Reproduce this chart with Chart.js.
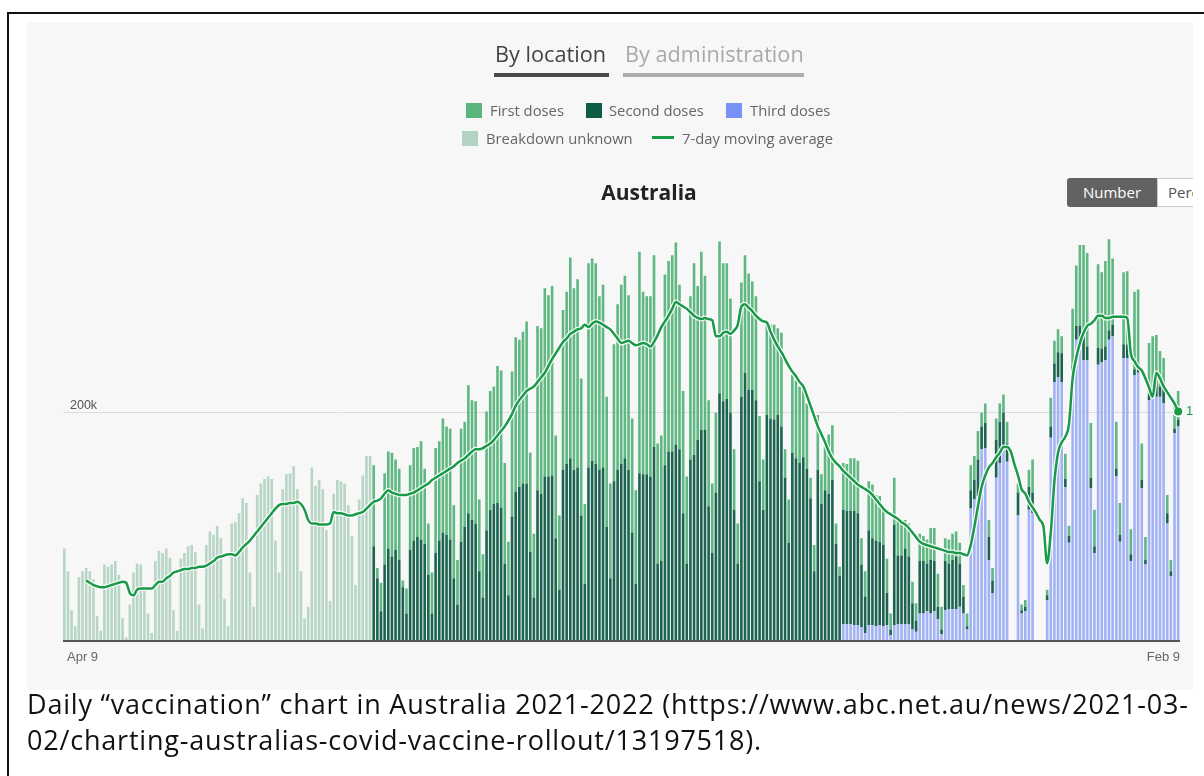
<!DOCTYPE html>
<html>
<head>
<meta charset="utf-8">
<script src="https://cdn.jsdelivr.net/npm/chart.js@4.4.0/dist/chart.umd.min.js"></script>
<style>
  body { margin: 0; width: 1204px; height: 776px; background: #fff; position: relative; overflow: hidden; font-family: "Open Sans", "Noto Sans", sans-serif; }
  #frame-top { position: absolute; left: 7px; top: 12px; width: 1197px; height: 2px; background: #111; }
  #frame-left { position: absolute; left: 7px; top: 12px; width: 2px; height: 764px; background: #111; }
  #panel { position: absolute; left: 27px; top: 22px; width: 1166px; height: 668px; background: #f7f7f7; overflow: hidden; }
  #panel div { position: absolute; white-space: nowrap; }
  #chart { position: absolute; left: 0; top: 0; }
  .tab { font-size: 21.7px; line-height: 21px; }
  .tab-bar { height: 4px; }
  .leg { font-size: 14.8px; line-height: 16px; color: #666; }
  .sw { width: 16px; height: 15px; }
  .axis { font-family: "Liberation Sans", Arial, sans-serif; font-size: 13px; line-height: 13px; color: #666; }
  #caption { position: absolute; left: 27px; top: 686px; font-size: 27px; letter-spacing: 0.8px; line-height: 36px; color: #111; white-space: nowrap; }
</style>
</head>
<body>
<div id="frame-top"></div>
<div id="frame-left"></div>
<div id="panel">
  <canvas id="chart" width="1166" height="668"></canvas>

  <div class="tab" style="left:468px; top:21px; color:#444;">By location</div>
  <div class="tab-bar" style="left:467px; top:51px; width:115px; background:#4a4a4a;"></div>
  <div class="tab" style="left:598px; top:21px; color:#a9a9a9;">By administration</div>
  <div class="tab-bar" style="left:596px; top:51px; width:181px; background:#adadad;"></div>

  <div class="sw" style="left:439px; top:81px; background:#5ab57c;"></div>
  <div class="leg" style="left:463px; top:80px;">First doses</div>
  <div class="sw" style="left:559px; top:81px; background:#0e5b46;"></div>
  <div class="leg" style="left:582px; top:80px;">Second doses</div>
  <div class="sw" style="left:699px; top:81px; background:#7a92f6;"></div>
  <div class="leg" style="left:723px; top:80px;">Third doses</div>
  <div class="sw" style="left:435px; top:109px; background:#b3d3c2;"></div>
  <div class="leg" style="left:459px; top:108px;">Breakdown unknown</div>
  <div style="left:625px; top:114px; width:22px; height:3px; background:#1a9a48;"></div>
  <div class="leg" style="left:655px; top:108px;">7-day moving average</div>

  <div style="left:522px; top:160px; width:200px; text-align:center; font-size:21px; line-height:21px; font-weight:700; color:#222;">Australia</div>

  <div style="left:1040px; top:156px; width:90px; height:29px; background:#626262; border-radius:3px 0 0 3px; color:#fff; font-size:15px; line-height:29px; text-align:center;">Number</div>
  <div style="left:1130px; top:156px; width:90px; height:27px; background:#fff; border:1px solid #ccc; color:#555; font-size:15px; line-height:27px; padding-left:10px;">Percent</div>

  <div class="axis" style="left:43px; top:377px; font-size:12.5px; color:#555;">200k</div>
  <div class="axis" style="left:40px; top:628px;">Apr 9</div>
  <div class="axis" style="left:1093px; top:628px; width:60px; text-align:right;">Feb 9</div>
  <div style="left:1159px; top:382px; font-family:'Liberation Sans', Arial, sans-serif; font-size:13px; line-height:13px; color:#1a9a48;">199k</div>
</div>
<div id="caption">Daily “vaccination” chart in Australia 2021-2022 (https://www.abc.net.au/news/2021-03-<br>02/charting-australias-covid-vaccine-rollout/13197518).</div>

<script>
// daily doses in thousands, Apr 9 2021 .. Feb 9 2022 (307 days)
const DAYS = 307;
const FIRST_DAY = new Date(2021, 3, 9);
const xTickLabels = ["Apr 9", "Feb 9"];
const yTickLabels = ["200k"];

// Apr 9 .. Jul 2: only totals
const unknownDoses = [
  81, 61, 27, 13, 56, 61, 64,
  61, 54, 22, 9, 67, 65, 67,
  70, 58, 20, 3, 32, 60, 68,
  67, 48, 24, 7, 70, 79, 77,
  81, 73, 27, 9, 72, 77, 83,
  84, 78, 32, 11, 84, 96, 93,
  101, 90, 37, 13, 103, 104, 112,
  125, 121, 60, 30, 128, 138, 142,
  144, 142, 88, 60, 133, 146, 147,
  153, 133, 61, 20, 30, 152, 136,
  141, 133, 97, 35, 129, 141, 140,
  138, 119, 92, 49, 124, 145, 162,
  162
];

// from Jul 3 (day 85)
const firstDoses = [
  71, 9, 25, 80, 85, 91, 79,
  80, 6, 22, 74, 81, 79, 86,
  66, 45, 36, 92, 87, 100, 95,
  97, 64, 39, 99, 92, 112, 105,
  107, 63, 38, 104, 104, 103, 120,
  120, 88, 47, 127, 135, 129, 133,
  142, 87, 56, 144, 145, 165, 159,
  166, 90, 65, 140, 151, 176, 159,
  165, 120, 70, 179, 177, 176, 152,
  160, 114, 83, 120, 145, 157, 160,
  153, 100, 82, 194, 160, 156, 158,
  168, 105, 110, 167, 167, 172, 177,
  144, 107, 76, 143, 168, 135, 156,
  135, 93, 61, 70, 133, 121, 119,
  100, 53, 35, 100, 103, 102, 95,
  91, 57, 44, 79, 82, 83, 76,
  82, 25, 38, 68, 68, 67, 60,
  57, 18, 23, 48, 26, 38, 52,
  48, 18, 8,
  41, 41, 46, 46, 46, 23, 22,
  43, 47, 40, 40, 31, 30, 14,
  41, 31, 31, 25, 29, 19, 15,
  24, 22, 21, 28, 29, 29, 20,
  20, 21, 23, 22, 18, 10, 11,
  22, 21, 25, 12, 17, 15, 11,
  19, 16, 16, 19, 0, 0, 8,
  5, 6, 15, 29, 0, 0, 0,
  5, 25, 20, 20, 15, 22, 9,
  50, 53, 71, 79, 82, 48, 32,
  73, 67, 75, 80, 58, 41, 28,
  63, 64, 22, 68, 66, 32, 20,
  44, 44, 34, 31, 25, 16, 10,
  24, 25
];

const secondDoses = [
  83, 55, 26, 67, 81, 74, 80,
  71, 47, 24, 80, 88, 91, 89,
  85, 58, 24, 77, 88, 95, 93,
  89, 55, 32, 87, 100, 112, 106,
  103, 61, 38, 97, 115, 120, 121,
  117, 68, 40, 109, 131, 135, 138,
  138, 78, 38, 132, 129, 144, 144,
  145, 90, 45, 150, 155, 160, 150,
  152, 110, 50, 152, 158, 155, 150,
  152, 100, 55, 140, 150, 155, 160,
  150, 95, 50, 147, 146, 146, 144,
  170, 68, 70, 154, 166, 166, 172,
  168, 112, 68, 159, 163, 176, 185,
  185, 118, 77, 130, 217, 210, 212,
  200, 115, 68, 214, 235, 220, 220,
  211, 140, 115, 198, 195, 194, 198,
  188, 143, 86, 165, 160, 156, 161,
  151, 125, 61, 150, 120, 132, 129,
  141, 85, 57,
  100, 99, 99, 100, 98, 55, 32,
  83, 76, 75, 73, 71, 28, 5,
  88, 60, 60, 66, 59, 23, 10,
  46, 46, 42, 47, 44, 11, 4,
  43, 40, 43, 46, 38, 15, 3,
  16, 17, 32, 20, 22, 20, 11,
  33, 36, 30, 16, 0, 0, 20,
  3, 4, 20, 18, 0, 0, 0,
  4, 10, 16, 22, 25, 7, 6,
  9, 12, 18, 22, 12, 9, 6,
  15, 12, 12, 8, 10, 7, 6,
  12, 12, 6, 5, 7, 7, 4,
  6, 9, 20, 9, 15, 9, 4,
  4, 6
];

// from Nov 9 (day 214)
const thirdDoses = [
  15, 15, 15, 14, 14, 12, 7,
  14, 14, 13, 14, 13, 14, 5,
  14, 15, 15, 15, 15, 10, 8,
  24, 24, 26, 24, 26, 19, 6,
  27, 28, 28, 28, 30, 24, 10,
  116, 124, 127, 168, 169, 71, 42,
  143, 156, 170, 157, 0, 0, 110,
  24, 26, 115, 112, 0, 0, 0,
  36, 178, 227, 231, 227, 135, 86,
  232, 264, 258, 246, 246, 134, 77,
  242, 244, 246, 264, 267, 144, 87,
  248, 248, 70, 233, 235, 134, 67,
  211, 214, 214, 214, 208, 103, 57,
  182, 188
];

const movingAvg = [
  null, null, null, null, null, null, 53,
  51, 49, 48, 47, 47, 48, 49,
  50, 51, 52, 51, 42, 40, 45,
  46, 46, 46, 46, 49, 52, 52,
  55, 57, 60, 61, 62, 63, 63,
  64, 64, 65, 65, 66, 68, 70,
  73, 74, 75, 76, 76, 75, 78,
  82, 85, 88, 92, 96, 100, 104,
  108, 112, 116, 119, 120, 120, 121,
  121, 122, 120, 115, 106, 103, 103,
  102, 102, 102, 103, 113, 112, 112,
  111, 110, 110, 111, 112, 113, 116,
  119, 122, 123, 125, 129, 132, 130,
  129, 128, 128, 128, 129, 130, 132,
  134, 136, 138, 141, 143, 145, 147,
  149, 151, 153, 156, 158, 160, 163,
  166, 168, 168, 169, 171, 173, 176,
  180, 184, 188, 193, 199, 206, 211,
  215, 219, 221, 223, 227, 231, 235,
  241, 247, 252, 257, 262, 265, 269,
  271, 273, 274, 277, 275, 278, 280,
  279, 277, 275, 273, 269, 265, 261,
  262, 263, 261, 259, 260, 261, 260,
  258, 262, 268, 275, 280, 285, 291,
  297, 295, 293, 291, 288, 285, 283,
  282, 283, 282, 281, 267, 267, 270,
  271, 269, 272, 277, 293, 295, 292,
  289, 285, 282, 280, 279, 271, 264,
  258, 253, 247, 241, 236, 232, 227,
  223, 215, 206, 197, 188, 181, 174,
  166, 160, 156, 153, 149, 146, 143,
  140, 137, 135, 133, 131, 128, 124,
  120, 116, 113, 111, 109, 107, 104,
  102, 99, 95, 91, 87, 85, 84,
  83, 82, 81, 80, 79, 78, 78,
  77, 77, 76, 75, 84, 100, 118,
  135, 145, 152, 156, 161, 165, 170,
  170, 166, 155, 145, 133, 129, 122,
  117, 112, 106, 100, 68, 95, 140,
  165, 174, 179, 190, 230, 248, 261,
  270, 276, 278, 281, 285, 285, 283,
  283, 284, 284, 284, 284, 283, 252,
  245, 240, 237, 230, 222, 214, 235,
  230, 223, 218, 213, 208, 201
];

const labels = Array.from({ length: DAYS }, (_, i) => {
  const d = new Date(FIRST_DAY);
  d.setDate(d.getDate() + i);
  return d.toLocaleDateString("en-AU", { month: "short", day: "numeric" });
});

// put a series that starts on a later day onto the full day axis
const align = (arr, start) =>
  labels.map((_, i) => (i >= start && i - start < arr.length ? arr[i - start] : null));

const lastIdx = DAYS - 1;
const barStyle = { type: "bar", order: 2, barPercentage: 0.72, categoryPercentage: 1, borderWidth: 0 };

new Chart(document.getElementById("chart"), {
  type: "bar",
  data: {
    labels: labels,
    datasets: [
      { ...barStyle, label: "Third doses", data: align(thirdDoses, 214), backgroundColor: "#a2b3f5" },
      { ...barStyle, label: "Second doses", data: align(secondDoses, 85), backgroundColor: "#1c6450" },
      { ...barStyle, label: "First doses", data: align(firstDoses, 85), backgroundColor: "#5fb882" },
      { ...barStyle, label: "Breakdown unknown", data: align(unknownDoses, 0), backgroundColor: "#b8d6c6" },
      {
        type: "line", label: "7-day moving average", order: 0, stack: "avg",
        data: movingAvg, borderColor: "#1a9a48", borderWidth: 2.5,
        cubicInterpolationMode: "monotone",
        pointRadius: (c) => (c.dataIndex === lastIdx ? 4 : 0),
        pointBackgroundColor: "#1a9a48", pointBorderWidth: 0
      },
      {
        type: "line", label: "halo", order: 1, stack: "halo",
        data: movingAvg, borderColor: "rgba(255,255,255,0.9)", borderWidth: 5,
        cubicInterpolationMode: "monotone",
        pointRadius: (c) => (c.dataIndex === lastIdx ? 5.5 : 0),
        pointBackgroundColor: "#fff", pointBorderWidth: 0
      }
    ]
  },
  options: {
    responsive: false,
    animation: false,
    layout: { padding: { left: 35.5, right: 13, top: 162.4, bottom: 49 } },
    plugins: { legend: { display: false }, tooltip: { enabled: false } },
    scales: {
      x: { display: false, stacked: true },
      y: {
        stacked: true, min: 0, max: 400,
        ticks: { display: false, stepSize: 200 },
        border: { display: false },
        grid: {
          drawTicks: false,
          color: (c) => (c.tick.value === 0 ? "#555" : c.tick.value === 200 ? "#dcdcdc" : "rgba(0,0,0,0)"),
          lineWidth: (c) => (c.tick.value === 0 ? 2 : 1)
        }
      }
    }
  }
});
</script>
</body>
</html>
